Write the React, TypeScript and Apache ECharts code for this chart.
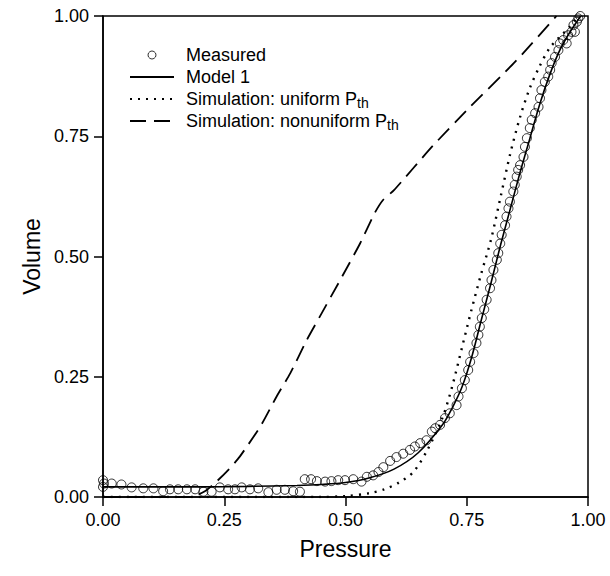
import React, { useEffect, useRef } from "react";
import * as echarts from "echarts";

const seriesNames = [
  "Measured",
  "Model 1",
  "Simulation: uniform Pth",
  "Simulation: nonuniform Pth",
];

const axisTickValues = [0, 0.25, 0.5, 0.75, 1];
const axisTickLabels = ["0.00", "0.25", "0.50", "0.75", "1.00"];

const measuredX = [
  0.0, 0.0, 0.002, 0.018, 0.038, 0.059, 0.083, 0.104, 0.124, 0.138, 0.155, 0.173, 0.19, 0.207,
  0.224, 0.241, 0.258, 0.272, 0.286, 0.303, 0.32, 0.341, 0.358, 0.375, 0.392, 0.406, 0.416,
  0.429, 0.441, 0.458, 0.471, 0.485, 0.499, 0.516, 0.533, 0.544, 0.557, 0.568, 0.578, 0.592,
  0.605, 0.619, 0.633, 0.643, 0.654, 0.667, 0.678, 0.685, 0.695, 0.705, 0.715, 0.729, 0.733,
  0.74, 0.746, 0.753, 0.757, 0.764, 0.77, 0.774, 0.777, 0.781, 0.786, 0.791, 0.798, 0.801,
  0.805, 0.812, 0.815, 0.819, 0.822, 0.829, 0.832, 0.836, 0.839, 0.846, 0.849, 0.853, 0.856,
  0.86, 0.867, 0.87, 0.874, 0.88, 0.884, 0.891, 0.898, 0.901, 0.904, 0.911, 0.918, 0.922,
  0.925, 0.932, 0.939, 0.942, 0.949, 0.956, 0.959, 0.966, 0.973, 0.97, 0.977, 0.98, 0.984,
];
const measuredY = [
  0.035, 0.021, 0.028, 0.028, 0.026, 0.02, 0.018, 0.018, 0.012, 0.016, 0.016, 0.016, 0.016, 0.011,
  0.011, 0.02, 0.016, 0.016, 0.02, 0.016, 0.018, 0.01, 0.015, 0.015, 0.012, 0.011, 0.037,
  0.037, 0.033, 0.032, 0.033, 0.035, 0.035, 0.037, 0.032, 0.042, 0.045, 0.052, 0.062, 0.075,
  0.083, 0.09, 0.098, 0.105, 0.112, 0.118, 0.136, 0.143, 0.15, 0.164, 0.174, 0.191, 0.209,
  0.226, 0.243, 0.264, 0.281, 0.299, 0.32, 0.337, 0.354, 0.372, 0.39, 0.41, 0.434, 0.451,
  0.472, 0.493, 0.507, 0.527, 0.545, 0.565, 0.583, 0.6, 0.614, 0.635, 0.649, 0.666, 0.68,
  0.69, 0.707, 0.728, 0.746, 0.767, 0.784, 0.798, 0.811, 0.829, 0.846, 0.863, 0.874, 0.888,
  0.902, 0.915, 0.929, 0.943, 0.95, 0.943, 0.96, 0.967, 0.967, 0.981, 0.988, 0.995, 1.0,
];

const modelX = [
  0, 0.1, 0.2, 0.3, 0.4, 0.45, 0.5, 0.55, 0.6, 0.65, 0.7, 0.72, 0.74, 0.76, 0.78, 0.8, 0.82,
  0.84, 0.86, 0.88, 0.9, 0.92, 0.94, 0.96, 0.985,
];
const modelY = [
  0.021, 0.021, 0.021, 0.022, 0.024, 0.026, 0.03, 0.04, 0.058, 0.092, 0.15, 0.185, 0.228, 0.29,
  0.368, 0.445, 0.525, 0.6, 0.675, 0.745, 0.815, 0.875, 0.925, 0.962, 1.0,
];

const uniformX = [
  0, 0.45, 0.5, 0.55, 0.58, 0.61, 0.64, 0.67, 0.7, 0.72, 0.74, 0.76, 0.78, 0.8, 0.82, 0.84, 0.86,
  0.88, 0.9, 0.92, 0.94, 0.96, 0.98,
];
const uniformY = [
  0, 0, 0.002, 0.008, 0.016, 0.03, 0.052, 0.1, 0.165, 0.23, 0.31, 0.39, 0.465, 0.535, 0.625,
  0.715, 0.79, 0.85, 0.895, 0.932, 0.955, 0.975, 1.0,
];

const nonuniformX = [
  0, 0.18, 0.21, 0.234, 0.26, 0.282, 0.324, 0.358, 0.386, 0.42, 0.447, 0.489, 0.53, 0.56, 0.577,
  0.6, 0.68, 0.757, 0.85, 0.935,
];
const nonuniformY = [
  0, 0, 0.012, 0.032, 0.058, 0.084, 0.146, 0.209, 0.257, 0.326, 0.375, 0.451, 0.527, 0.59, 0.617,
  0.638, 0.73, 0.811, 0.905, 1.0,
];

const zip = (xs: number[], ys: number[]) => xs.map((x, i) => [x, ys[i]]);

const FONT = "'Liberation Sans', Arial, Helvetica, sans-serif";

export default function App() {
  const ref = useRef<HTMLDivElement>(null);

  useEffect(() => {
    if (!ref.current) return;
    const chart = echarts.init(ref.current, undefined, { renderer: "svg" });
    const labelFor = (v: number) => {
      const i = axisTickValues.findIndex((t) => Math.abs(t - v) < 1e-9);
      return i >= 0 ? axisTickLabels[i] : "";
    };
    const axisCommon = {
      type: "value" as const,
      min: 0,
      max: 1,
      interval: 0.25,
      nameLocation: "middle" as const,
      nameTextStyle: { fontFamily: FONT, fontSize: 23, color: "#000" },
      axisLine: { show: true, onZero: false, lineStyle: { color: "#000", width: 1.5 } },
      axisTick: { show: true, inside: false, length: 9, lineStyle: { color: "#000", width: 1.5 } },
      axisLabel: {
        fontFamily: FONT,
        fontSize: 18,
        color: "#000",
        margin: 14,
        formatter: labelFor,
      },
      splitLine: { show: false },
    };
    const hideSymbol = { opacity: 0 };
    chart.setOption({
      animation: false,
      backgroundColor: "#fff",
      grid: {
        left: 103,
        right: 22,
        top: 16,
        bottom: 79,
        show: true,
        borderColor: "#000",
        borderWidth: 1.5,
        backgroundColor: "transparent",
      },
      xAxis: { ...axisCommon, name: "Pressure", nameGap: 40 },
      yAxis: { ...axisCommon, name: "Volume", nameGap: 60 },
      legend: {
        orient: "vertical",
        left: 124,
        top: 39,
        itemWidth: 44,
        itemHeight: 8,
        itemGap: 0,
        data: [
          {
            name: seriesNames[0],
            itemStyle: { color: "rgba(0,0,0,0)", borderColor: "#000", borderWidth: 1 },
          },
          { name: seriesNames[1], itemStyle: hideSymbol },
          { name: seriesNames[2], itemStyle: hideSymbol },
          { name: seriesNames[3], itemStyle: hideSymbol },
        ],
        textStyle: {
          fontFamily: FONT,
          fontSize: 18,
          color: "#000",
          lineHeight: 22,
          padding: [0, 0, 0, 7],
          rich: {
            sub: {
              fontFamily: FONT,
              fontSize: 14,
              lineHeight: 14,
              verticalAlign: "bottom",
              color: "#000",
            },
          },
        },
        formatter: (name: string) =>
          name.endsWith("Pth") ? name.slice(0, -2) + "{sub|th}" : name,
      },
      series: [
        {
          name: seriesNames[0],
          type: "scatter",
          data: zip(measuredX, measuredY),
          symbol: "circle",
          symbolSize: 9,
          itemStyle: { color: "rgba(0,0,0,0)", borderColor: "#000", borderWidth: 1 },
          z: 3,
        },
        {
          name: seriesNames[1],
          type: "line",
          data: zip(modelX, modelY),
          symbol: "none",
          smooth: 0.3,
          lineStyle: { color: "#000", width: 1.6, type: "solid" },
          itemStyle: { color: "#000" },
          z: 4,
        },
        {
          name: seriesNames[2],
          type: "line",
          data: zip(uniformX, uniformY),
          symbol: "none",
          smooth: 0.3,
          lineStyle: { color: "#000", width: 2.4, type: [2, 6] },
          itemStyle: { color: "#000" },
          z: 2,
        },
        {
          name: seriesNames[3],
          type: "line",
          data: zip(nonuniformX, nonuniformY),
          symbol: "none",
          smooth: 0.2,
          lineStyle: { color: "#000", width: 1.8, type: [16, 8] },
          itemStyle: { color: "#000" },
          z: 2,
        },
      ],
    });
    return () => chart.dispose();
  }, []);

  return (
    <div
      ref={ref}
      style={{ position: "fixed", left: 0, top: 0, width: 610, height: 576, background: "#fff" }}
    />
  );
}
